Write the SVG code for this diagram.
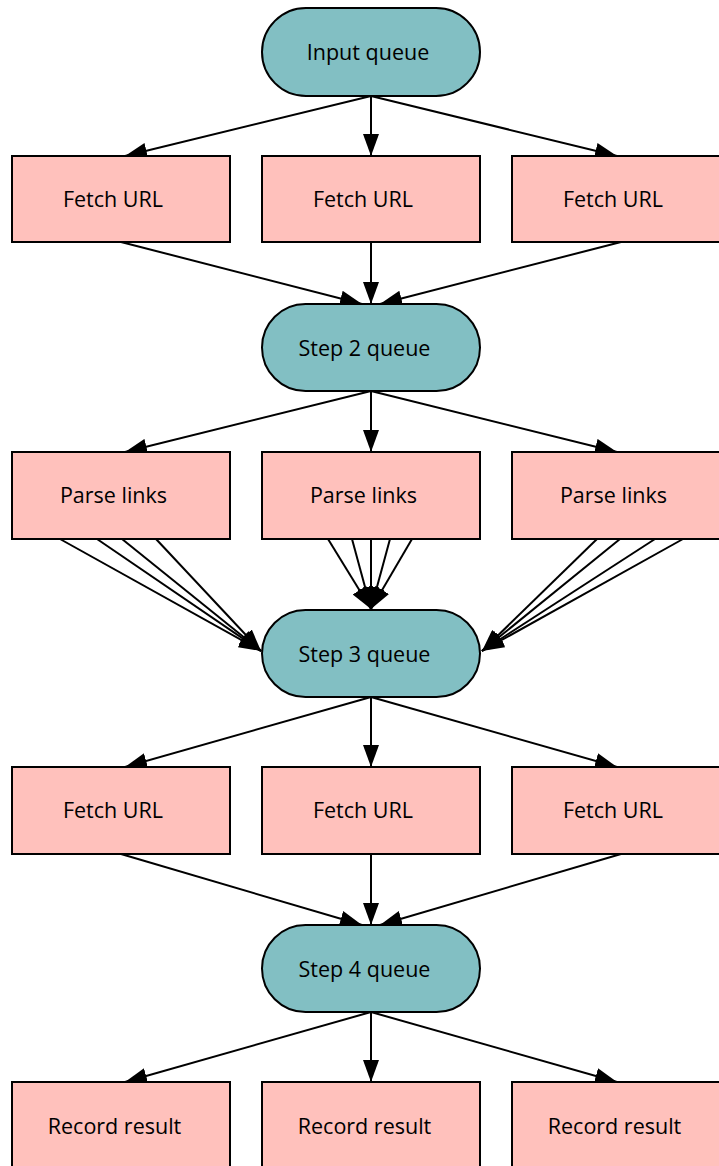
<svg xmlns="http://www.w3.org/2000/svg" width="719" height="1166" viewBox="0 0 719 1166">
<style>
.q{fill:#82bfc3;stroke:#000;stroke-width:2}
.b{fill:#ffc1bc;stroke:#000;stroke-width:2}
text{font-family:"Open Sans","Liberation Sans",sans-serif;font-size:21.5px;fill:#000;text-anchor:middle}
.e line{stroke:#000;stroke-width:2;marker-end:url(#ah)}
</style>
<defs>
<marker id="ah" markerUnits="userSpaceOnUse" markerWidth="22" markerHeight="16" refX="22" refY="8" orient="auto" viewBox="0 0 22 16">
<path d="M0,0 L22,8 L0,16 z" fill="#000"/>
</marker>
</defs>
<rect width="719" height="1166" fill="#fff"/>
<g class="e" id="connectors">
<line x1="371" y1="96" x2="125" y2="156"/>
<line x1="371" y1="96" x2="371" y2="156"/>
<line x1="371" y1="96" x2="617" y2="156"/>
<line x1="121" y1="242" x2="362" y2="304"/>
<line x1="371" y1="242" x2="371" y2="304"/>
<line x1="621" y1="242" x2="380" y2="304"/>
<line x1="371" y1="391" x2="125" y2="452"/>
<line x1="371" y1="391" x2="371" y2="452"/>
<line x1="371" y1="391" x2="617" y2="452"/>
<line x1="60" y1="539" x2="261" y2="651"/>
<line x1="97" y1="539" x2="261" y2="651"/>
<line x1="122" y1="539" x2="261" y2="651"/>
<line x1="156" y1="539" x2="261" y2="651"/>
<line x1="328" y1="539" x2="371" y2="609"/>
<line x1="352" y1="539" x2="371" y2="609"/>
<line x1="371" y1="539" x2="371" y2="609"/>
<line x1="390" y1="539" x2="371" y2="609"/>
<line x1="412" y1="539" x2="371" y2="609"/>
<line x1="597" y1="539" x2="482" y2="651"/>
<line x1="620" y1="539" x2="482" y2="651"/>
<line x1="655" y1="539" x2="482" y2="651"/>
<line x1="683" y1="539" x2="482" y2="651"/>
<line x1="371" y1="697" x2="125" y2="767"/>
<line x1="371" y1="697" x2="371" y2="767"/>
<line x1="371" y1="697" x2="617" y2="767"/>
<line x1="121" y1="854" x2="362" y2="925"/>
<line x1="371" y1="854" x2="371" y2="925"/>
<line x1="621" y1="854" x2="380" y2="925"/>
<line x1="371" y1="1012" x2="125" y2="1082"/>
<line x1="371" y1="1012" x2="371" y2="1082"/>
<line x1="371" y1="1012" x2="617" y2="1082"/>
</g>
<g id="input-queue"><rect class="q" x="262" y="8" width="218" height="88" rx="44"/><text x="368" y="60">Input queue</text></g>
<g id="fetch1a"><rect class="b" x="12" y="156" width="218" height="86"/><text x="113" y="207">Fetch URL</text></g>
<g id="fetch1b"><rect class="b" x="262" y="156" width="218" height="86"/><text x="363" y="207">Fetch URL</text></g>
<g id="fetch1c"><rect class="b" x="512" y="156" width="218" height="86"/><text x="613" y="207">Fetch URL</text></g>
<g id="step2-queue"><rect class="q" x="262" y="304" width="218" height="87" rx="43.5"/><text x="364.5" y="356">Step 2 queue</text></g>
<g id="parse-a"><rect class="b" x="12" y="452" width="218" height="87"/><text x="113.5" y="503">Parse links</text></g>
<g id="parse-b"><rect class="b" x="262" y="452" width="218" height="87"/><text x="363.5" y="503">Parse links</text></g>
<g id="parse-c"><rect class="b" x="512" y="452" width="218" height="87"/><text x="613.5" y="503">Parse links</text></g>
<g id="step3-queue"><rect class="q" x="262" y="610" width="218" height="87" rx="43.5"/><text x="364.5" y="662">Step 3 queue</text></g>
<g id="fetch2a"><rect class="b" x="12" y="767" width="218" height="87"/><text x="113" y="818">Fetch URL</text></g>
<g id="fetch2b"><rect class="b" x="262" y="767" width="218" height="87"/><text x="363" y="818">Fetch URL</text></g>
<g id="fetch2c"><rect class="b" x="512" y="767" width="218" height="87"/><text x="613" y="818">Fetch URL</text></g>
<g id="step4-queue"><rect class="q" x="262" y="925" width="218" height="87" rx="43.5"/><text x="364.5" y="977">Step 4 queue</text></g>
<g id="record-a"><rect class="b" x="12" y="1082" width="218" height="87"/><text x="114.5" y="1134">Record result</text></g>
<g id="record-b"><rect class="b" x="262" y="1082" width="218" height="87"/><text x="364.5" y="1134">Record result</text></g>
<g id="record-c"><rect class="b" x="512" y="1082" width="218" height="87"/><text x="614.5" y="1134">Record result</text></g>
</svg>
